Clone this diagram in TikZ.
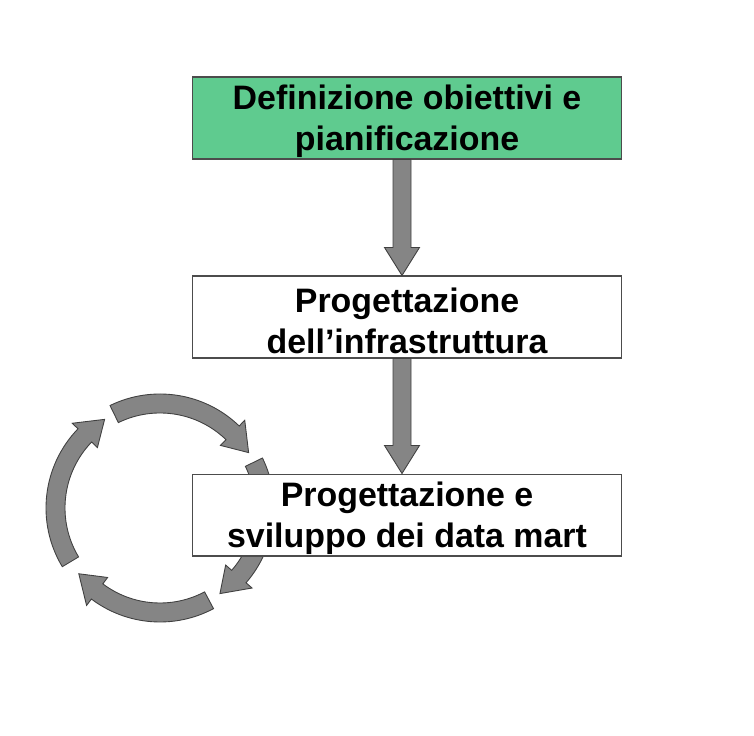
\documentclass[tikz,border=0pt]{standalone}
\usepackage{fontspec}
\setmainfont{Liberation Sans}
\usetikzlibrary{calc,positioning}

\definecolor{phasegreen}{RGB}{95,203,143}
\definecolor{arrowgray}{RGB}{133,133,133}
\newcommand{\firstline}{\rule{0pt}{18pt}}

\tikzset{
    phase/.style={draw=black!70, line width=0.6pt, fill=white, inner sep=0pt,
        minimum width=8.6cm, minimum height=1.64cm, align=center,
        font=\fontsize{19.3}{23.2}\selectfont\bfseries},
    bigarrow/.style={fill=arrowgray, draw=black!75, line width=0.5pt},
}

\begin{document}
\begin{tikzpicture}[x=0.02cm, y=0.02cm]
    \useasboundingbox (0,0) rectangle (754,736);
    \coordinate (hub) at (160,228);
    % ciclo dei data mart
    \foreach \s/\t in {116/32, 26/-55, -62/-141, -149/-238} {
        \pgfmathsetmacro{\h}{\t+14}
        \draw[bigarrow] ([shift={(\s:114)}]hub) arc[start angle=\s, end angle=\h, radius=114]
            -- ([shift={(\h:122)}]hub) -- ([shift={(\t:104.5)}]hub)
            -- ([shift={(\h:87)}]hub) -- ([shift={(\h:95)}]hub)
            arc[start angle=\h, end angle=\s, radius=95] -- cycle;
    }

    \node[phase, fill=phasegreen] (goals) at (407,618) {\firstline Definizione obiettivi e\\pianificazione};
    \node[phase, below=2.32cm of goals] (infra) {\firstline Progettazione\\dell’infrastruttura};
    \node[phase, below=2.30cm of infra] (dmart) {\firstline Progettazione e\\sviluppo dei data mart};

    \foreach \a/\b in {goals/infra, infra/dmart}
        \draw[bigarrow] ($(\a.south)+(-14,0)$) -- ($(\b.north)+(-14,28)$)
            -- ($(\b.north)+(-22.5,28)$) -- ($(\b.north)+(-5,0)$)
            -- ($(\b.north)+(12.5,28)$) -- ($(\b.north)+(4,28)$)
            -- ($(\a.south)+(4,0)$) -- cycle;
\end{tikzpicture}
\end{document}
